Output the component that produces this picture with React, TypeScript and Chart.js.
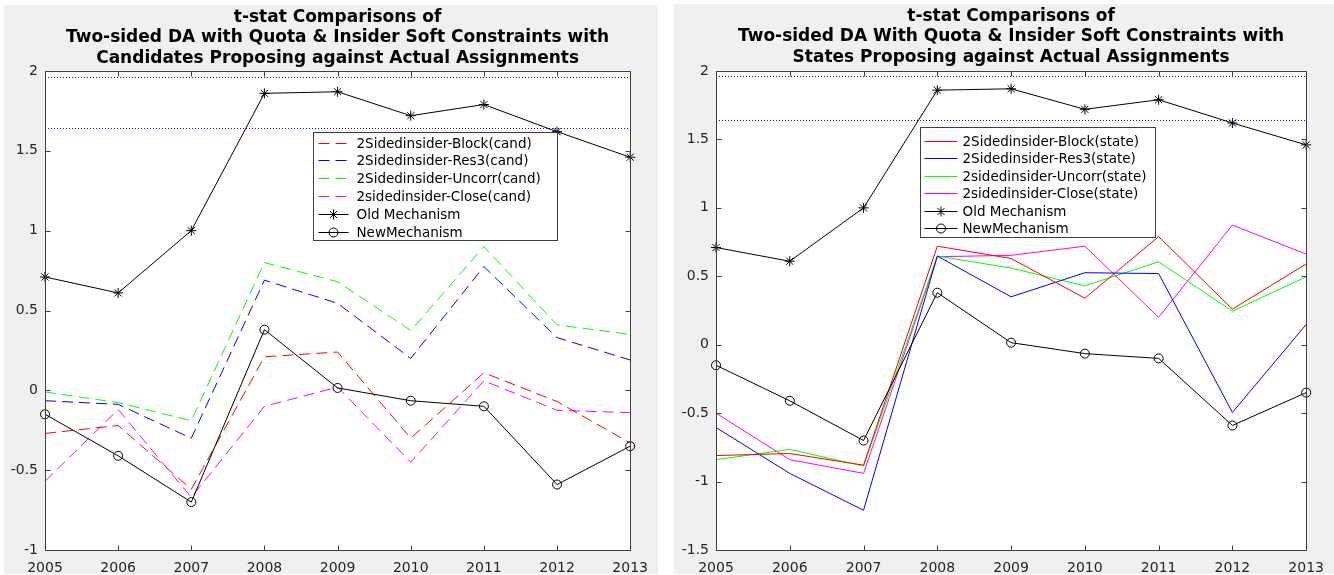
import React, { useEffect, useRef } from 'react';
import { Chart, registerables } from 'chart.js';

Chart.register(...registerables);

// ---------------- data ----------------
const years = ['2005', '2006', '2007', '2008', '2009', '2010', '2011', '2012', '2013'];

const oldMechanism = [0.71, 0.61, 1.0, 1.86, 1.87, 1.72, 1.79, 1.62, 1.46];
const newMechanism = [-0.15, -0.41, -0.7, 0.38, 0.015, -0.065, -0.1, -0.59, -0.35];

const blockCand = [-0.27, -0.22, -0.62, 0.21, 0.24, -0.3, 0.11, -0.07, -0.33];
const res3Cand = [-0.065, -0.088, -0.3, 0.69, 0.545, 0.2, 0.775, 0.33, 0.19];
const uncorrCand = [-0.01, -0.077, -0.19, 0.8, 0.68, 0.375, 0.9, 0.41, 0.35];
const closeCand = [-0.57, -0.12, -0.67, -0.1, 0.02, -0.45, 0.06, -0.125, -0.14];

const blockState = [-0.81, -0.795, -0.88, 0.72, 0.63, 0.34, 0.79, 0.26, 0.59];
const res3State = [-0.605, -0.94, -1.21, 0.648, 0.35, 0.526, 0.52, -0.495, 0.148];
const uncorrState = [-0.84, -0.765, -0.887, 0.648, 0.56, 0.43, 0.606, 0.245, 0.496];
const closeState = [-0.5, -0.84, -0.94, 0.643, 0.653, 0.72, 0.2, 0.874, 0.662];

const refLevels = [1.96, 1.645];

const leftTitle = [
  't-stat Comparisons of',
  'Two-sided DA with Quota & Insider Soft Constraints with',
  'Candidates Proposing against Actual Assignments',
];
const rightTitle = [
  't-stat Comparisons of',
  'Two-sided DA With Quota & Insider Soft Constraints with',
  'States Proposing against Actual Assignments',
];

const leftLabels = [
  '2Sidedinsider-Block(cand)',
  '2Sidedinsider-Res3(cand)',
  '2Sidedinsider-Uncorr(cand)',
  '2sidedinsider-Close(cand)',
  'Old Mechanism',
  'NewMechanism',
];
const rightLabels = [
  '2Sidedinsider-Block(state)',
  '2Sidedinsider-Res3(state)',
  '2sidedinsider-Uncorr(state)',
  '2sidedinsider-Close(state)',
  'Old Mechanism',
  'NewMechanism',
];

// ---------------- styling ----------------
const FONT = "'DejaVu Sans', 'Liberation Sans', sans-serif";
const AXIS_COLOR = '#404040';
const TICK_LABEL_COLOR = '#262626';
const seriesColors = ['#ff0000', '#0000ff', '#00ff00', '#ff00ff'];
const DASH = [11, 6];

type LegendCfg = {
  x: number;
  y: number;
  w: number;
  h: number;
  sampleX: number;
  sample: number;
  textX: number;
  firstRow: number;
  rowGap: number;
};

function drawMarker(ctx: CanvasRenderingContext2D, style: string, x: number, y: number, r: number) {
  ctx.beginPath();
  if (style === 'star') {
    ctx.moveTo(x - r, y);
    ctx.lineTo(x + r, y);
    ctx.moveTo(x, y - r);
    ctx.lineTo(x, y + r);
    const d = r * Math.SQRT1_2;
    ctx.moveTo(x - d, y - d);
    ctx.lineTo(x + d, y + d);
    ctx.moveTo(x - d, y + d);
    ctx.lineTo(x + d, y - d);
  } else if (style === 'circle') {
    ctx.arc(x, y, r, 0, Math.PI * 2);
  }
  ctx.stroke();
}

const matlabPlugin = {
  id: 'matlabAxes',
  beforeDraw(chart: any, _args: any, opts: any) {
    const { ctx, chartArea: a, width, height } = chart;
    ctx.save();
    ctx.fillStyle = '#f0f0f0';
    ctx.fillRect(0, 0, width, height);
    ctx.fillStyle = '#ffffff';
    ctx.fillRect(a.left, a.top, a.right - a.left, a.bottom - a.top);
    // title, centred over the axes
    const lines: string[] = opts.title || [];
    ctx.fillStyle = '#000000';
    ctx.font = `bold 17px ${FONT}`;
    ctx.textAlign = 'center';
    ctx.textBaseline = 'middle';
    const cx = (a.left + a.right) / 2;
    lines.forEach((t, i) => {
      ctx.fillText(t, cx, opts.titleTop + i * 20.5);
    });
    ctx.restore();
  },
  beforeDatasetsDraw(chart: any, _args: any, opts: any) {
    // dotted reference levels, positioned by the y scale
    const { ctx, chartArea: a } = chart;
    const ys = chart.scales.y;
    ctx.save();
    ctx.strokeStyle = '#0000ff';
    ctx.lineWidth = 1;
    ctx.setLineDash([1, 2]);
    (opts.refs || []).forEach((lvl: number) => {
      const py = Math.round(ys.getPixelForValue(lvl)) + 0.5;
      ctx.beginPath();
      ctx.moveTo(a.left, py);
      ctx.lineTo(a.right, py);
      ctx.stroke();
    });
    ctx.restore();
  },
  afterDatasetsDraw(chart: any) {
    const { ctx, chartArea: a } = chart;
    const xs = chart.scales.x;
    const ys = chart.scales.y;
    const L = Math.round(a.left) + 0.5;
    const R = Math.round(a.right) + 0.5;
    const T = Math.round(a.top) + 0.5;
    const B = Math.round(a.bottom) + 0.5;
    const tl = 5;
    ctx.save();
    ctx.strokeStyle = AXIS_COLOR;
    ctx.lineWidth = 1;
    ctx.setLineDash([]);
    ctx.beginPath();
    ctx.rect(L, T, R - L, B - T);
    ctx.stroke();
    ctx.beginPath();
    xs.ticks.forEach((_t: any, i: number) => {
      const px = Math.round(xs.getPixelForTick(i)) + 0.5;
      ctx.moveTo(px, B);
      ctx.lineTo(px, B - tl);
      ctx.moveTo(px, T);
      ctx.lineTo(px, T + tl);
    });
    ys.ticks.forEach((_t: any, i: number) => {
      const py = Math.round(ys.getPixelForTick(i)) + 0.5;
      ctx.moveTo(L, py);
      ctx.lineTo(L + tl, py);
      ctx.moveTo(R, py);
      ctx.lineTo(R - tl, py);
    });
    ctx.stroke();
    ctx.restore();
  },
  afterDraw(chart: any, _args: any, opts: any) {
    const cfg: LegendCfg = opts.legend;
    if (!cfg) return;
    const { ctx, chartArea: a } = chart;
    const bx = Math.round(a.left + cfg.x) + 0.5;
    const by = Math.round(a.top + cfg.y) + 0.5;
    ctx.save();
    ctx.fillStyle = '#ffffff';
    ctx.fillRect(bx, by, cfg.w, cfg.h);
    ctx.strokeStyle = AXIS_COLOR;
    ctx.lineWidth = 1;
    ctx.setLineDash([]);
    ctx.strokeRect(bx, by, cfg.w, cfg.h);
    const items = chart.data.datasets.slice();
    items.sort((p: any, q: any) => p.legendIndex - q.legendIndex);
    ctx.font = `13.5px ${FONT}`;
    ctx.textBaseline = 'middle';
    ctx.textAlign = 'left';
    items.forEach((d: any, i: number) => {
      const cy = Math.round(by + cfg.firstRow + i * cfg.rowGap) + 0.5;
      const x0 = bx + cfg.sampleX;
      const x1 = x0 + cfg.sample;
      ctx.strokeStyle = d.legendColor;
      ctx.lineWidth = 1;
      ctx.setLineDash(d.borderDash || []);
      ctx.beginPath();
      ctx.moveTo(x0, cy);
      ctx.lineTo(x1, cy);
      ctx.stroke();
      ctx.setLineDash([]);
      if (d.pointRadius > 0) {
        drawMarker(ctx, d.pointStyle, (x0 + x1) / 2, cy, d.pointRadius);
      }
      ctx.fillStyle = '#000000';
      ctx.fillText(d.label, bx + cfg.textX, cy + 0.5);
    });
    ctx.restore();
  },
};

function buildDatasets(series: number[][], labels: string[], dashed: boolean) {
  const ds: any[] = series.map((vals, i) => ({
    label: labels[i],
    data: vals,
    borderColor: seriesColors[i],
    legendColor: seriesColors[i],
    backgroundColor: seriesColors[i],
    borderWidth: 1,
    borderDash: dashed ? DASH : [],
    pointRadius: 0,
    pointStyle: 'circle',
    order: 2 + i,
    legendIndex: i,
    clip: false,
  }));
  ds.push({
    label: labels[4],
    data: oldMechanism,
    borderColor: '#000000',
    legendColor: '#000000',
    backgroundColor: 'rgba(0,0,0,0)',
    borderWidth: 1,
    borderDash: [],
    pointStyle: 'star',
    pointRadius: 5,
    pointBorderWidth: 1,
    pointBorderColor: '#000000',
    pointBackgroundColor: 'rgba(0,0,0,0)',
    order: 0,
    legendIndex: 4,
    clip: false,
  });
  ds.push({
    label: labels[5],
    data: newMechanism,
    borderColor: '#000000',
    legendColor: '#000000',
    backgroundColor: 'rgba(0,0,0,0)',
    borderWidth: 1,
    borderDash: [],
    pointStyle: 'circle',
    pointRadius: 4.5,
    pointBorderWidth: 1,
    pointBorderColor: '#000000',
    pointBackgroundColor: 'rgba(0,0,0,0)',
    order: 1,
    legendIndex: 5,
    clip: false,
  });
  return ds;
}

type PanelProps = {
  left: number;
  top: number;
  width: number;
  height: number;
  title: string[];
  datasets: any[];
  yMin: number;
  yMax: number;
  yAxisWidth: number;
  xAxisHeight: number;
  padRight: number;
  padTop: number;
  titleTop: number;
  legend: LegendCfg;
};

function Panel(p: PanelProps) {
  const ref = useRef<HTMLCanvasElement | null>(null);
  useEffect(() => {
    if (!ref.current) return;
    const chart = new Chart(ref.current, {
      type: 'line',
      data: { labels: years, datasets: p.datasets },
      plugins: [matlabPlugin],
      options: {
        animation: false,
        responsive: false,
        devicePixelRatio: 1,
        events: [],
        layout: { padding: { left: 0, top: p.padTop, bottom: 0, right: p.padRight } },
        plugins: {
          legend: { display: false },
          tooltip: { enabled: false },
          title: { display: false },
          matlabAxes: { legend: p.legend, title: p.title, titleTop: p.titleTop, refs: refLevels },
        } as any,
        scales: {
          x: {
            type: 'category',
            offset: false,
            grid: { display: false, drawTicks: false },
            border: { display: false },
            ticks: {
              color: TICK_LABEL_COLOR,
              font: { family: FONT, size: 14 },
              padding: 10,
              maxRotation: 0,
              autoSkip: false,
            },
            afterFit: (s: any) => {
              s.height = p.xAxisHeight;
            },
          },
          y: {
            type: 'linear',
            min: p.yMin,
            max: p.yMax,
            grid: { display: false, drawTicks: false },
            border: { display: false },
            ticks: {
              stepSize: 0.5,
              color: TICK_LABEL_COLOR,
              font: { family: FONT, size: 14 },
              padding: 7,
              callback: (v: any) => String(Number(v)),
            },
            afterFit: (s: any) => {
              s.width = p.yAxisWidth;
            },
          },
        },
      } as any,
    });
    return () => chart.destroy();
  }, []);
  return (
    <div
      style={{
        position: 'absolute',
        left: p.left,
        top: p.top,
        width: p.width,
        height: p.height,
        background: '#f0f0f0',
      }}
    >
      <canvas ref={ref} width={p.width} height={p.height} style={{ display: 'block', width: p.width, height: p.height }} />
    </div>
  );
}

export default function App() {
  const leftSets = buildDatasets([blockCand, res3Cand, uncorrCand, closeCand], leftLabels, true);
  const rightSets = buildDatasets([blockState, res3State, uncorrState, closeState], rightLabels, false);
  return (
    <div style={{ position: 'absolute', left: 0, top: 0, width: 1334, height: 575, background: '#ffffff', overflow: 'hidden' }}>
      <Panel
        left={4}
        top={5}
        width={654}
        height={569}
        title={leftTitle}
        datasets={leftSets}
        yMin={-1}
        yMax={2}
        yAxisWidth={41}
        xAxisHeight={24}
        padRight={21}
        padTop={66}
        titleTop={12.5}
        legend={{ x: 268, y: 61, w: 244, h: 108, sampleX: 5, sample: 30, textX: 43, firstRow: 10, rowGap: 17.8 }}
      />
      <Panel
        left={674}
        top={4}
        width={660}
        height={570}
        title={rightTitle}
        datasets={rightSets}
        yMin={-1.5}
        yMax={2}
        yAxisWidth={42}
        xAxisHeight={24}
        padRight={23}
        padTop={67}
        titleTop={12.5}
        legend={{ x: 204, y: 56, w: 235, h: 110, sampleX: 4, sample: 33, textX: 42, firstRow: 13, rowGap: 17.5 }}
      />
    </div>
  );
}
